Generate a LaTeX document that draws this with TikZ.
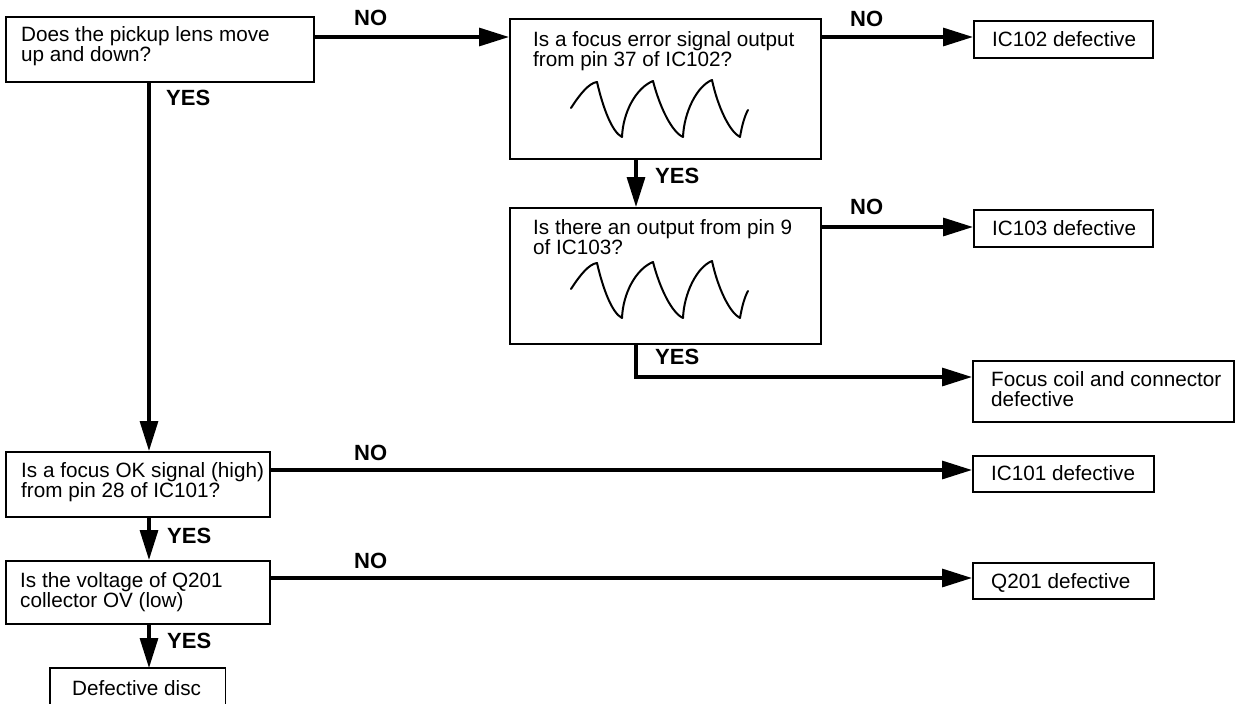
\documentclass[tikz,border=0pt]{standalone}
\usepackage{fontspec}
\setmainfont{Liberation Sans}
\usetikzlibrary{arrows.meta}
\begin{document}
\begin{tikzpicture}[x=1pt,y=-1pt,
  box/.style={draw,line width=1.6pt,inner sep=0pt,anchor=north west},
  txt/.style={inner sep=0pt,anchor=north west,align=left,font=\fontsize{20.7}{20}\selectfont},
  lbl/.style={inner sep=0pt,anchor=north west,font=\bfseries\fontsize{22}{22}\selectfont},
  conn/.style={line width=3.2pt},
  arr/.style={line width=3.2pt,-{Triangle[length=30pt,width=18pt]}},
  wave/.style={line width=2pt,line cap=round,line join=round}]
\useasboundingbox (0,0) rectangle (1235,704);
\fill[white] (0,0) rectangle (1235,704);

% boxes
\node[box,minimum width=308pt,minimum height=65pt] (A) at (5,16) {};
\node[box,minimum width=311pt,minimum height=140pt] (B) at (509,18) {};
\node[box,minimum width=311pt,minimum height=136pt] (C) at (509,207) {};
\node[box,minimum width=179pt,minimum height=37pt] (D) at (973,20) {};
\node[box,minimum width=179pt,minimum height=37pt] (E) at (973,209) {};
\node[box,minimum width=261pt,minimum height=61pt] (F) at (972,360) {};
\node[box,minimum width=264pt,minimum height=65pt] (K) at (5,451) {};
\node[box,minimum width=181pt,minimum height=36pt] (G) at (972,455) {};
\node[box,minimum width=264pt,minimum height=63pt] (V) at (5,560) {};
\node[box,minimum width=181pt,minimum height=36pt] (H) at (972,562) {};
\node[inner sep=0pt,anchor=north west,minimum width=175pt,minimum height=36pt] (Z) at (50,668) {};
\draw[line width=1.6pt] (Z.south west) -- (Z.north west) -- (Z.north east) -- (Z.south east);

% texts
\node[txt] (At) at (21,26) {Does the pickup lens move\\up and down?};
\node[txt] (Bt) at (533,31) {Is a focus error signal output\\from pin 37 of IC102?};
\node[txt] (Ct) at (533,219) {Is there an output from pin 9\\of IC103?};
\node[txt] (Dt) at (992,31) {IC102 defective};
\node[txt] (Et) at (992,220) {IC103 defective};
\node[txt] (Ft) at (991,371) {Focus coil and connector\\defective};
\node[txt] (Kt) at (21,462) {Is a focus OK signal (high)\\from pin 28 of IC101?};
\node[txt] (Gt) at (991,465) {IC101 defective};
\node[txt] (Vt) at (20,572) {Is the voltage of Q201\\collector OV (low)};
\node[txt] (Ht) at (991,573) {Q201 defective};
\node[txt] (Zt) at (72,680) {Defective disc};

% labels
\node[lbl] (n1) at (354,10) {NO};
\node[lbl] (y1) at (166,90) {YES};
\node[lbl] (n2) at (850,11) {NO};
\node[lbl] (y2) at (655,168) {YES};
\node[lbl] (n3) at (850,199) {NO};
\node[lbl] (y3) at (655,349) {YES};
\node[lbl] (n4) at (354,445) {NO};
\node[lbl] (y4) at (167,528) {YES};
\node[lbl] (n5) at (354,553) {NO};
\node[lbl] (y5) at (167,633) {YES};

% connectors
\draw[arr] (A.north east |- 0,37) -- (B.north west |- 0,37);
\draw[arr] (B.north east |- 0,37) -- (D.north west |- 0,37);
\draw[arr] (C.north east |- 0,227) -- (E.north west |- 0,227);
\draw[arr] (A.south west -| 149,0) -- (K.north west -| 149,0);
\draw[arr] (B.south west -| 636,0) -- (C.north west -| 636,0);
\draw[arr] (C.south west -| 636,0) -- (636,377) -- (F.north west |- 0,377);
\draw[arr] (K.north east |- 0,470) -- (G.north west |- 0,470);
\draw[arr] (K.south west -| 149,0) -- (V.north west -| 149,0);
\draw[arr] (V.north east |- 0,578) -- (H.north west |- 0,578);
\draw[arr] (V.south west -| 149,0) -- (Z.north west -| 149,0);

% waveforms
\foreach \dy in {0,181}{
\begin{scope}[yshift=-\dy pt]
\draw[wave] (571,108) .. controls (580,94) and (589,83) .. (597,82)
  .. controls (603,108) and (612,132) .. (622,137)
  .. controls (623,112) and (636,88) .. (653,81)
  .. controls (660,108) and (672,132) .. (683,137)
  .. controls (684,112) and (697,86) .. (712,80)
  .. controls (718,108) and (730,132) .. (740,137)
  .. controls (742,125) and (745,115) .. (748,110);
\end{scope}}
\end{tikzpicture}
\end{document}
